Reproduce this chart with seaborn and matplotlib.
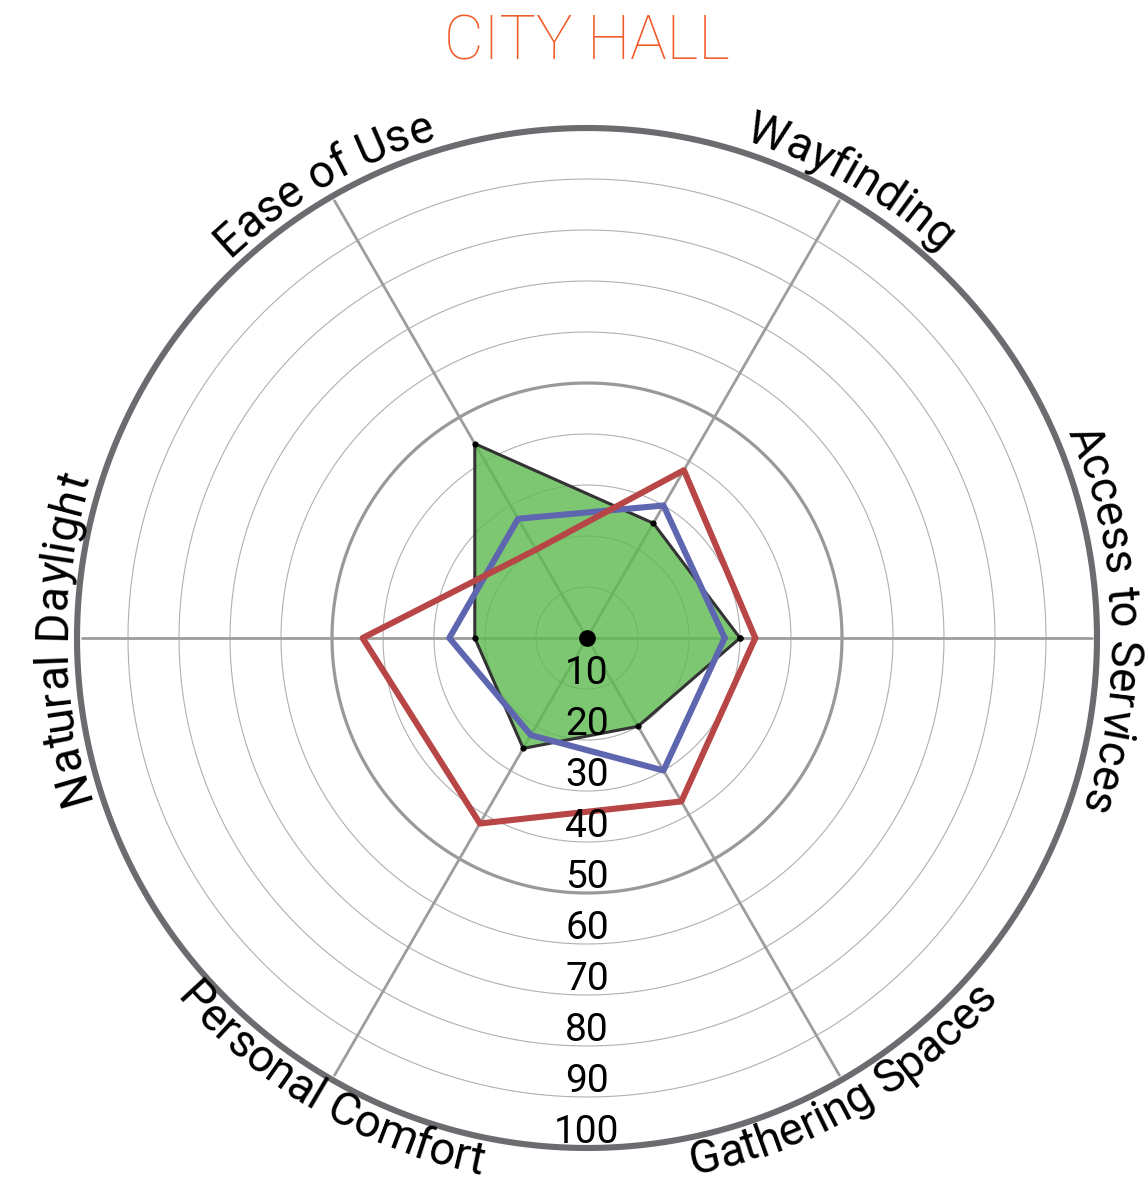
import numpy as np
import pandas as pd
import matplotlib
matplotlib.use("Agg")
import matplotlib.pyplot as plt
import seaborn as sns

# data
categories = ["Access to Services", "Wayfinding", "Ease of Use",
              "Natural Daylight", "Personal Comfort", "Gathering Spaces"]
angles_deg = [0, 60, 120, 180, 240, 300]
green_vals = [30, 26, 44, 22, 25, 20]
blue_vals = [27, 30, 27, 27, 22, 30]
red_vals = [33, 38, 20, 44, 42, 37]
ring_vals = [10, 20, 30, 40, 50, 60, 70, 80, 90, 100]
ring_labels = ["10", "20", "30", "40", "50", "60", "70", "80", "90", "100"]

sns.set_theme(style="white")
plt.rcParams["font.family"] = ["Roboto", "DejaVu Sans"]

fig = plt.figure(figsize=(11.48, 11.83), dpi=100)
ax = fig.add_axes([0.06707, 0.02959, 0.8885, 0.8622], projection="polar")
ax.set_ylim(0, 100)
ax.axis("off")

theta = np.deg2rad(angles_deg)
full = np.linspace(0, 2 * np.pi, 721)

# rings
for v in ring_vals:
    if v == 100:
        ax.plot(full, np.full_like(full, v), color="#6c6c70", lw=4.4, clip_on=False, zorder=1)
    elif v == 50:
        ax.plot(full, np.full_like(full, v), color="#999999", lw=2.3, clip_on=False, zorder=1)
    else:
        ax.plot(full, np.full_like(full, v), color="#b0b0b0", lw=0.8, clip_on=False, zorder=1)

# spokes
for t in theta:
    ax.plot([t, t], [0, 99], color="#9d9d9d", lw=2.0, zorder=1, clip_on=False)


def closed(vals):
    df = pd.DataFrame({"theta": list(theta) + [theta[0]], "r": list(vals) + [vals[0]]})
    return df


g = closed(green_vals)
ax.fill(g["theta"], g["r"], color="#5dba50", alpha=0.8, lw=0, zorder=2)
sns.lineplot(data=g, x="theta", y="r", sort=False, estimator=None, color="#333333",
             lw=2.2, marker="o", markersize=4.5, markeredgewidth=0,
             markerfacecolor="black", ax=ax, zorder=3)

b = closed(blue_vals)
sns.lineplot(data=b, x="theta", y="r", sort=False, estimator=None, color="#5e66b0",
             lw=4.4, ax=ax, zorder=4)

r = closed(red_vals)
sns.lineplot(data=r, x="theta", y="r", sort=False, estimator=None, color="#b84646",
             lw=4.4, ax=ax, zorder=5)

ax.plot([0], [0], "o", color="black", ms=11, zorder=6)
ax.set_ylim(0, 100)
ax.axis("off")

# range labels down the bottom spoke
for v, lab in zip(ring_vals, ring_labels):
    ax.text(np.deg2rad(270), v - 1.0, lab, ha="center", va="baseline",
            fontsize=28, color="black", zorder=10)

# category labels bent along the outer ring, one glyph at a time
renderer = fig.canvas.get_renderer()
px_per_unit = 510 / 100
label_size = 33


def text_width(s):
    t = fig.text(0, 0, s, fontsize=label_size)
    w = t.get_window_extent(renderer=renderer).width
    t.remove()
    return w


base_w = text_width("HH")


def curved_text(s, angle, radius_px, clockwise):
    adv = [text_width("H" + c + "H") - base_w for c in s]
    total = sum(adv)
    pos = 0
    for c, w in zip(s, adv):
        s_c = pos + w / 2 - total / 2
        pos += w
        if c == " ":
            continue
        d = np.rad2deg(s_c / radius_px)
        a = angle - d if clockwise else angle + d
        rot = a - 90 if clockwise else a + 90
        ax.text(np.deg2rad(a), radius_px / px_per_unit, c, rotation=(rot + 180) % 360 - 180,
                rotation_mode="anchor", ha="center", va="baseline",
                fontsize=label_size, color="black", clip_on=False)


label_shift = {"Access to Services": 2}
for cat, a in zip(categories, angles_deg):
    a = a + label_shift.get(cat, 0)
    if a < 200:
        curved_text(cat, a, 522, True)
    else:
        curved_text(cat, a, 547, False)

fig.text(0.511, 1 - 59 / 1183, "CITY HALL", ha="center", va="baseline",
         fontsize=44, fontweight="light", color="#f15a29")

fig.savefig("out.png", dpi=100)
